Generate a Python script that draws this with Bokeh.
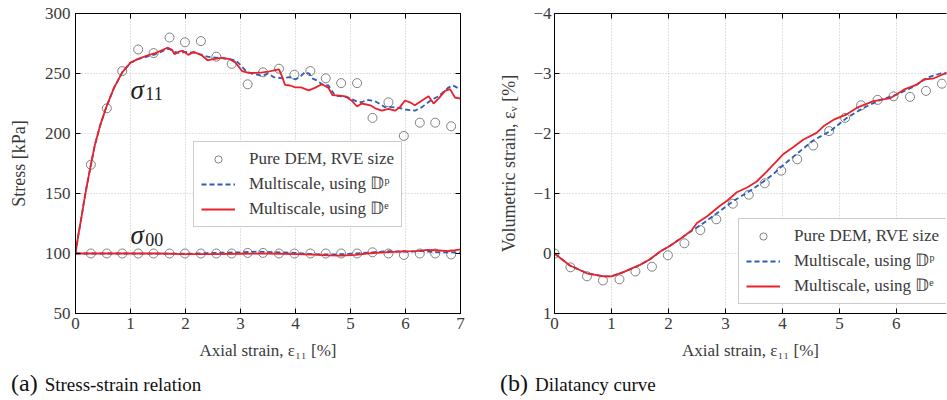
from bokeh.plotting import figure
from bokeh.models import FixedTicker, LinearAxis, Range1d, Legend, LegendItem, Label, Div
from bokeh.layouts import row, column
from bokeh.embed import file_html
from bokeh.resources import INLINE

FONT = "'Liberation Serif', serif"
TXT = "#3a3a3a"
RED = "#e8222b"
BLUE = "#2f5db3"
GREY = "#808080"

# ---------------- (a) Stress-strain relation ----------------
dem_x = [0.28, 0.57, 0.85, 1.14, 1.42, 1.71, 1.99, 2.28, 2.56, 2.84, 3.13, 3.41,
         3.70, 3.98, 4.27, 4.55, 4.83, 5.12, 5.40, 5.69, 5.97, 6.26, 6.54, 6.83]
s11_dem = [174, 221, 252, 270, 267, 280, 276, 277, 264, 258, 241, 251,
           254, 249, 252, 246, 242, 242, 213, 226, 198, 209, 209, 206]
s00_dem = [100, 100, 100, 100, 100, 100, 100, 100, 100, 100, 100.5, 100.5,
           100, 100, 100, 100, 100, 100, 101, 100, 98.8, 100, 100, 99.2]

s11_e_x = [0, 0.05, 0.1, 0.15, 0.2, 0.28, 0.35, 0.45, 0.56, 0.7, 0.85, 1.0, 1.13, 1.3,
           1.45, 1.6, 1.68, 1.75, 1.8, 1.9, 1.95, 2.05, 2.15, 2.3, 2.4, 2.5, 2.67, 2.8,
           2.91, 3.03, 3.15, 3.27, 3.4, 3.51, 3.6, 3.7, 3.76, 3.81, 3.9, 4.0, 4.1, 4.24,
           4.35, 4.48, 4.6, 4.67, 4.8, 4.91, 5.03, 5.12, 5.2, 5.36, 5.45, 5.57, 5.69,
           5.81, 5.9, 5.99, 6.08, 6.17, 6.3, 6.42, 6.51, 6.6, 6.72, 6.81, 6.9, 7.0]
s11_e = [100, 115, 128, 142, 155, 174, 190, 207, 222, 238, 251, 259, 262, 265,
         267, 270, 271.5, 270, 266, 268.5, 269, 265.5, 268, 265, 261, 262, 263, 262,
         259, 252, 250.5, 250.5, 251, 251.5, 252.5, 253.5, 247, 240.5, 240, 238.5, 238.5, 236,
         238, 241, 238, 232, 231.5, 231, 227, 222.5, 225, 223.5, 221, 219, 220.5,
         219, 222, 227.5, 226, 223.5, 227.5, 231, 225, 229, 235.5, 237, 230, 229]

s11_p_x = [0, 0.05, 0.1, 0.15, 0.2, 0.28, 0.35, 0.45, 0.56, 0.7, 0.85, 1.0, 1.13, 1.3,
           1.45, 1.6, 1.7, 1.8, 1.9, 2.0, 2.2, 2.4, 2.6, 2.8, 2.91, 3.0, 3.1, 3.2, 3.3,
           3.39, 3.5, 3.6, 3.76, 3.9, 4.0, 4.1, 4.17, 4.25, 4.3, 4.4, 4.48, 4.6, 4.72,
           4.85, 4.96, 5.1, 5.2, 5.3, 5.44, 5.52, 5.62, 5.75, 5.86, 6.0, 6.17, 6.3,
           6.47, 6.6, 6.77, 6.86, 6.95]
s11_p = [100, 115, 128, 142, 155, 174, 190, 207, 222, 238, 251, 259, 262, 264,
         266, 269, 270.5, 268, 267, 268, 267, 264, 263, 262, 261, 257, 252, 250, 249,
         248, 250, 247, 246, 247, 245, 248, 251, 250, 246, 244, 241, 240, 231.5,
         231, 230, 227, 226, 228, 227, 225, 222, 222, 221.5, 220, 219, 222,
         228, 231, 238, 240, 238]

s00_e_x = [0, 0.5, 1.0, 1.5, 2.0, 2.5, 3.0, 3.5, 4.0, 4.3, 4.6, 4.83, 5.1, 5.3, 5.6,
           6.0, 6.2, 6.4, 6.6, 6.8, 7.0]
s00_e = [100, 100, 100, 100, 99.5, 99.5, 99.8, 100, 99.5, 99, 98.5, 98.2, 98.8, 100, 101,
         101.8, 102, 103, 102.5, 102, 103.5]
s00_p_x = [0, 1.0, 2.0, 2.5, 3.0, 3.3, 3.6, 4.0, 4.3, 4.6, 4.9, 5.1, 5.4, 5.7, 6.0,
           6.3, 6.6, 7.0]
s00_p = [100, 100, 99.8, 100.5, 101, 101.5, 101.2, 100.5, 99.5, 99.2, 99.5, 100, 101,
         102, 101.5, 102, 101, 101]

xt_a = [0, 1, 2, 3, 4, 5, 6, 7]
yt_a = [50, 100, 150, 200, 250, 300]

# ---------------- (b) Dilatancy curve ----------------
ev_x = [0, 0.28, 0.57, 0.85, 1.14, 1.42, 1.71, 1.99, 2.28, 2.56, 2.84, 3.13, 3.41,
        3.69, 3.98, 4.26, 4.54, 4.82, 5.10, 5.38, 5.67, 5.95, 6.24, 6.52, 6.80]
ev_dem = [0.0, 0.23, 0.38, 0.45, 0.43, 0.30, 0.22, 0.03, -0.17, -0.39, -0.57, -0.83,
          -0.98, -1.17, -1.38, -1.57, -1.80, -2.04, -2.26, -2.47, -2.56, -2.62, -2.61,
          -2.71, -2.83]

ev_e_x = [0, 0.27, 0.57, 0.86, 1.0, 1.21, 1.5, 1.67, 1.85, 2.03, 2.26, 2.41, 2.5, 2.68,
          2.91, 3.03, 3.2, 3.38, 3.55, 3.72, 3.9, 4.02, 4.2, 4.37, 4.6, 4.72, 4.9, 5.13,
          5.31, 5.6, 5.9, 6.13, 6.37, 6.48, 6.66, 6.9]
ev_e = [0, 0.2, 0.33, 0.38, 0.38, 0.31, 0.19, 0.1, -0.03, -0.13, -0.28, -0.39, -0.51,
        -0.62, -0.8, -0.88, -1.02, -1.1, -1.2, -1.36, -1.54, -1.66, -1.78, -1.9, -2.01,
        -2.12, -2.23, -2.32, -2.43, -2.54, -2.59, -2.73, -2.82, -2.9, -2.92, -3.02]

ev_p_x = [0, 0.27, 0.57, 0.86, 1.0, 1.21, 1.5, 1.67, 1.85, 2.03, 2.26, 2.41, 2.56, 2.85,
          3.15, 3.44, 3.67, 3.85, 3.96, 4.25, 4.55, 4.84, 5.13, 5.43, 5.72, 6.01, 6.3,
          6.54, 6.77, 6.9]
ev_p = [0, 0.2, 0.33, 0.38, 0.38, 0.31, 0.19, 0.1, -0.03, -0.13, -0.28, -0.38, -0.47,
        -0.67, -0.88, -1.05, -1.2, -1.33, -1.43, -1.66, -1.89, -2.04, -2.26, -2.43,
        -2.56, -2.65, -2.78, -2.93, -3.0, -3.0]

xt_b = [0, 1, 2, 3, 4, 5, 6]
yt_b = [-4, -3, -2, -1, 0, 1]
yt_b_labels = ["\u22124", "\u22123", "\u22122", "\u22121", "0", "1"]

LEG_LABELS = ["Pure DEM, RVE size", "Multiscale, using \U0001D53B\u1D56",
              "Multiscale, using \U0001D53B\u1D49"]
CAPTIONS = [("(a)", "Stress-strain relation"), ("(b)", "Dilatancy curve")]


def axis_style(ax, show_labels=True, ticks=None):
    ax.major_tick_in = 5
    ax.major_tick_out = 0
    ax.minor_tick_line_color = None
    ax.axis_line_color = "black"
    ax.major_tick_line_color = "black"
    ax.major_label_text_font = FONT
    ax.major_label_text_font_size = "17px"
    ax.major_label_text_color = TXT
    ax.axis_label_text_font = FONT
    ax.axis_label_text_font_size = "17px"
    ax.axis_label_text_font_style = "normal"
    ax.axis_label_text_color = TXT
    if not show_labels:
        # tick marks only (mirror axis), labels are empty
        ax.major_label_overrides = {t: "" for t in ticks}
        ax.major_label_text_font_size = "1px"
        ax.major_label_standoff = 0


def grid_style(p):
    p.grid.grid_line_color = "#c4c4c4"
    p.grid.grid_line_dash = "1 2"
    p.grid.grid_line_width = 1


def legend_style(leg):
    leg.label_text_font = FONT
    leg.label_text_font_size = "17px"
    leg.label_text_color = TXT
    leg.border_line_color = "#9a9a9a"
    leg.border_line_width = 1
    leg.background_fill_color = "white"
    leg.background_fill_alpha = 1
    leg.glyph_width = 34
    leg.glyph_height = 18
    leg.label_height = 18
    leg.label_standoff = 14
    leg.spacing = 4
    leg.padding = 7
    leg.margin = 0


def caption(tag, text, width, pad):
    html = ("<span style=\"font-size:24px;\">%s</span>"
            "<span style=\"font-size:19px; margin-left:7px;\">%s</span>" % (tag, text))
    return Div(text=html, width=width, height=35, margin=0,
               styles={"font-family": "'Liberation Serif', serif", "color": "#111",
                       "padding-left": "%dpx" % pad, "padding-top": "4px",
                       "line-height": "28px", "white-space": "nowrap"})


# ---------- figure (a) ----------
pa = figure(width=490, height=365, x_range=Range1d(0, 7), y_range=Range1d(50, 300),
            output_backend="svg", toolbar_location=None,
            min_border_left=75, min_border_right=30, min_border_top=13, min_border_bottom=52)
pa.outline_line_color = "black"
pa.outline_line_width = 1
pa.xaxis.ticker = FixedTicker(ticks=xt_a)
pa.yaxis.ticker = FixedTicker(ticks=yt_a)
axis_style(pa.xaxis[0])
axis_style(pa.yaxis[0])
pa.xaxis.axis_label = "Axial strain, \u03b5\u2081\u2081 [%]"
pa.yaxis.axis_label = "Stress [kPa]"
pa.yaxis.axis_label_text_font_size = "18px"
pa.xaxis.major_label_standoff = 4
pa.xaxis.axis_label_standoff = 9
pa.yaxis.major_label_standoff = 5
pa.yaxis.axis_label_standoff = 13
top_a = LinearAxis(ticker=FixedTicker(ticks=xt_a))
axis_style(top_a, False, xt_a)
pa.add_layout(top_a, "above")
right_a = LinearAxis(ticker=FixedTicker(ticks=yt_a))
axis_style(right_a, False, yt_a)
pa.add_layout(right_a, "right")
grid_style(pa)

r_dem_a = pa.scatter(dem_x, s11_dem, marker="circle", size=9, fill_color=None,
                     line_color=GREY, line_width=1)
pa.scatter(dem_x, s00_dem, marker="circle", size=9, fill_color=None,
           line_color=GREY, line_width=1)
r_p_a = pa.line(s11_p_x, s11_p, line_color=BLUE, line_width=1.8, line_dash="5 3")
pa.line(s00_p_x, s00_p, line_color=BLUE, line_width=1.8, line_dash="5 3")
r_e_a = pa.line(s11_e_x, s11_e, line_color=RED, line_width=1.8)
pa.line(s00_e_x, s00_e, line_color=RED, line_width=1.8)

leg_a = Legend(items=[LegendItem(label=LEG_LABELS[0], renderers=[r_dem_a]),
                      LegendItem(label=LEG_LABELS[1], renderers=[r_p_a]),
                      LegendItem(label=LEG_LABELS[2], renderers=[r_e_a])],
               location=(118, 86))
legend_style(leg_a)
pa.add_layout(leg_a)

for x, y, t in [(1.0, 236, "\u03c3"), (1.0, 115.5, "\u03c3")]:
    pa.add_layout(Label(x=x, y=y, text=t, text_font=FONT, text_font_size="27px",
                        text_font_style="italic", text_color="#222",
                        text_baseline="alphabetic", text_align="left"))
for x, y, t in [(1.27, 233, "11"), (1.27, 112, "00")]:
    pa.add_layout(Label(x=x, y=y, text=t, text_font=FONT, text_font_size="18px",
                        text_color="#222", text_baseline="alphabetic", text_align="left"))

# ---------- figure (b) ----------
pb = figure(width=457, height=365, x_range=Range1d(0, 6.88), y_range=Range1d(1, -4),
            output_backend="svg", toolbar_location=None,
            min_border_left=64, min_border_right=1, min_border_top=13, min_border_bottom=52)
pb.outline_line_color = None
pb.xaxis.ticker = FixedTicker(ticks=xt_b)
pb.yaxis.ticker = FixedTicker(ticks=yt_b)
pb.yaxis.major_label_overrides = {t: l for t, l in zip(yt_b, yt_b_labels)}
axis_style(pb.xaxis[0])
axis_style(pb.yaxis[0])
pb.xaxis.axis_label = "Axial strain, \u03b5\u2081\u2081 [%]"
pb.yaxis.axis_label = "Volumetric strain, \u03b5\u1d65 [%]"
pb.yaxis.axis_label_text_font_size = "18px"
pb.xaxis.major_label_standoff = 4
pb.xaxis.axis_label_standoff = 9
pb.yaxis.major_label_standoff = 3
pb.yaxis.axis_label_standoff = 11
top_b = LinearAxis(ticker=FixedTicker(ticks=xt_b))
axis_style(top_b, False, xt_b)
pb.add_layout(top_b, "above")
grid_style(pb)

r_dem_b = pb.scatter(ev_x, ev_dem, marker="circle", size=9, fill_color=None,
                     line_color=GREY, line_width=1)
r_p_b = pb.line(ev_p_x, ev_p, line_color=BLUE, line_width=1.8, line_dash="5 3")
r_e_b = pb.line(ev_e_x, ev_e, line_color=RED, line_width=1.8)

leg_b = Legend(items=[LegendItem(label=LEG_LABELS[0], renderers=[r_dem_b]),
                      LegendItem(label=LEG_LABELS[1], renderers=[r_p_b]),
                      LegendItem(label=LEG_LABELS[2], renderers=[r_e_b])],
               location=(184, 9))
legend_style(leg_b)
pb.add_layout(leg_b)

cap_a = caption(CAPTIONS[0][0], CAPTIONS[0][1], 490, 11)
cap_b = caption(CAPTIONS[1][0], CAPTIONS[1][1], 457, 10)

layout = column(row(pa, pb), row(cap_a, cap_b))
open("out.html", "w").write(file_html(layout, INLINE))
